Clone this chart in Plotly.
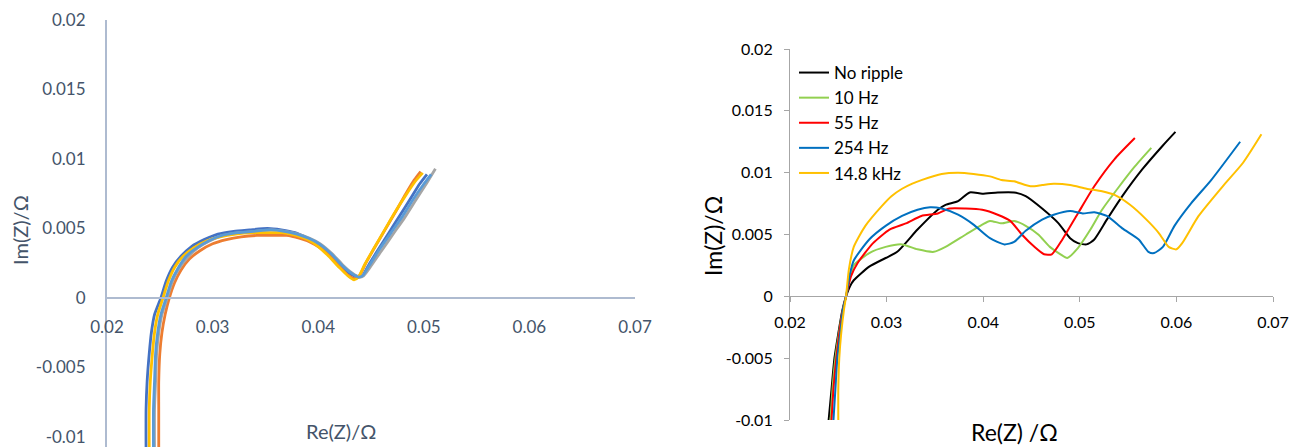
import plotly.graph_objects as go

# ---------------- Left chart data (five overlapping runs) ----------------
L1_x = [0.0237, 0.0237, 0.0238, 0.0240, 0.0242, 0.0245, 0.0251, 0.0256, 0.0262, 0.0270, 0.0280, 0.0292, 0.0305, 0.0320, 0.0335, 0.0352, 0.0365, 0.0378, 0.0390, 0.0400, 0.0411, 0.0422, 0.0431, 0.0438, 0.0442, 0.0448, 0.0457, 0.0467, 0.0477, 0.0487, 0.0496, 0.0503]
L1_y = [-0.0110, -0.0080, -0.0060, -0.0040, -0.0025, -0.0012, 0.0000, 0.0012, 0.0022, 0.0030, 0.0037, 0.0042, 0.0046, 0.0048, 0.0049, 0.0050, 0.0049, 0.0047, 0.0043, 0.0039, 0.0032, 0.0023, 0.0017, 0.0015, 0.0016, 0.0024, 0.0035, 0.0047, 0.0059, 0.0071, 0.0082, 0.0089]

L2_x = [0.0249, 0.0249, 0.0249, 0.0250, 0.0252, 0.0255, 0.0259, 0.0264, 0.0270, 0.0278, 0.0288, 0.0300, 0.0313, 0.0327, 0.0342, 0.0357, 0.0370, 0.0382, 0.0393, 0.0402, 0.0412, 0.0421, 0.0429, 0.0435, 0.0439, 0.0445, 0.0454, 0.0464, 0.0474, 0.0483, 0.0491, 0.0497]
L2_y = [-0.0110, -0.0080, -0.0060, -0.0040, -0.0025, -0.0012, 0.0000, 0.0011, 0.0020, 0.0028, 0.0034, 0.0039, 0.0042, 0.0044, 0.0045, 0.0045, 0.0045, 0.0043, 0.0040, 0.0036, 0.0030, 0.0022, 0.0016, 0.0014, 0.0016, 0.0025, 0.0037, 0.0050, 0.0063, 0.0075, 0.0085, 0.0091]

L3_x = [0.0245, 0.0245, 0.0246, 0.0247, 0.0249, 0.0252, 0.0257, 0.0262, 0.0268, 0.0276, 0.0286, 0.0297, 0.0310, 0.0325, 0.0340, 0.0356, 0.0369, 0.0381, 0.0392, 0.0402, 0.0413, 0.0423, 0.0432, 0.0439, 0.0443, 0.0450, 0.0460, 0.0471, 0.0482, 0.0492, 0.0503, 0.0511]
L3_y = [-0.0110, -0.0080, -0.0060, -0.0040, -0.0025, -0.0012, 0.0000, 0.0012, 0.0021, 0.0029, 0.0036, 0.0041, 0.0045, 0.0047, 0.0048, 0.0049, 0.0048, 0.0046, 0.0043, 0.0039, 0.0032, 0.0024, 0.0018, 0.0015, 0.0016, 0.0023, 0.0034, 0.0046, 0.0058, 0.0070, 0.0083, 0.0093]

L4_x = [0.0240, 0.0240, 0.0241, 0.0243, 0.0245, 0.0248, 0.0253, 0.0258, 0.0264, 0.0272, 0.0282, 0.0294, 0.0307, 0.0322, 0.0337, 0.0353, 0.0366, 0.0379, 0.0390, 0.0400, 0.0410, 0.0420, 0.0428, 0.0434, 0.0438, 0.0444, 0.0453, 0.0463, 0.0473, 0.0483, 0.0492, 0.0499]
L4_y = [-0.0110, -0.0080, -0.0060, -0.0040, -0.0025, -0.0012, 0.0000, 0.0012, 0.0022, 0.0030, 0.0036, 0.0041, 0.0044, 0.0046, 0.0047, 0.0047, 0.0047, 0.0045, 0.0042, 0.0037, 0.0030, 0.0022, 0.0016, 0.0013, 0.0015, 0.0024, 0.0036, 0.0049, 0.0062, 0.0074, 0.0084, 0.0090]

L5_x = [0.0244, 0.0244, 0.0245, 0.0246, 0.0248, 0.0251, 0.0256, 0.0261, 0.0267, 0.0275, 0.0285, 0.0296, 0.0309, 0.0324, 0.0339, 0.0355, 0.0368, 0.0380, 0.0391, 0.0401, 0.0412, 0.0422, 0.0431, 0.0438, 0.0442, 0.0448, 0.0458, 0.0469, 0.0480, 0.0490, 0.0500, 0.0507]
L5_y = [-0.0110, -0.0080, -0.0060, -0.0040, -0.0025, -0.0012, 0.0000, 0.0012, 0.0021, 0.0030, 0.0036, 0.0041, 0.0045, 0.0047, 0.0048, 0.0049, 0.0048, 0.0046, 0.0043, 0.0039, 0.0032, 0.0024, 0.0018, 0.0015, 0.0016, 0.0023, 0.0035, 0.0047, 0.0059, 0.0071, 0.0082, 0.0089]

left_colors = ["#4472c4", "#ed7d31", "#a5a5a5", "#ffc000", "#5b9bd5"]

# ---------------- Right chart data ----------------
R_names = ["No ripple", "10 Hz", "55 Hz", "254 Hz", "14.8 kHz"]
R_colors = ["#000000", "#92d050", "#ff0000", "#0070c0", "#ffc000"]

nr_x = [0.0240, 0.0243, 0.0246, 0.0250, 0.0254, 0.0258, 0.0262, 0.0266, 0.0282, 0.0299, 0.0311, 0.0332, 0.0353, 0.0361, 0.0374, 0.0386, 0.0399, 0.0415, 0.0432, 0.0444, 0.0461, 0.0478, 0.0490, 0.0498, 0.0507, 0.0515, 0.0528, 0.0544, 0.0565, 0.0586, 0.0599]
nr_y = [-0.0100, -0.0075, -0.0050, -0.0030, -0.0012, 0.0000, 0.0008, 0.0013, 0.0024, 0.0031, 0.0036, 0.0054, 0.0070, 0.0074, 0.0077, 0.0084, 0.0083, 0.0084, 0.0084, 0.0081, 0.0071, 0.0059, 0.0047, 0.0043, 0.0042, 0.0046, 0.0062, 0.0081, 0.0103, 0.0122, 0.0133]

h10_x = [0.0242, 0.0244, 0.0247, 0.0251, 0.0255, 0.0258, 0.0262, 0.0266, 0.0282, 0.0299, 0.0316, 0.0332, 0.0349, 0.0361, 0.0382, 0.0399, 0.0407, 0.0419, 0.0432, 0.0444, 0.0457, 0.0469, 0.0480, 0.0487, 0.0498, 0.0511, 0.0523, 0.0540, 0.0557, 0.0574]
h10_y = [-0.0100, -0.0075, -0.0050, -0.0028, -0.0010, 0.0000, 0.0015, 0.0025, 0.0035, 0.0040, 0.0042, 0.0038, 0.0036, 0.0040, 0.0050, 0.0058, 0.0061, 0.0059, 0.0061, 0.0057, 0.0050, 0.0040, 0.0034, 0.0031, 0.0039, 0.0054, 0.0070, 0.0088, 0.0105, 0.0120]

h55_x = [0.0243, 0.0245, 0.0248, 0.0251, 0.0255, 0.0258, 0.0263, 0.0270, 0.0286, 0.0303, 0.0320, 0.0336, 0.0353, 0.0365, 0.0382, 0.0399, 0.0415, 0.0428, 0.0440, 0.0453, 0.0463, 0.0471, 0.0482, 0.0498, 0.0515, 0.0536, 0.0557]
h55_y = [-0.0100, -0.0075, -0.0050, -0.0030, -0.0010, 0.0000, 0.0016, 0.0027, 0.0043, 0.0054, 0.0059, 0.0065, 0.0067, 0.0071, 0.0071, 0.0070, 0.0066, 0.0061, 0.0050, 0.0040, 0.0034, 0.0034, 0.0046, 0.0067, 0.0089, 0.0111, 0.0128]

h254_x = [0.0245, 0.0247, 0.0249, 0.0252, 0.0255, 0.0258, 0.0262, 0.0266, 0.0282, 0.0299, 0.0316, 0.0332, 0.0345, 0.0357, 0.0374, 0.0390, 0.0407, 0.0422, 0.0432, 0.0444, 0.0461, 0.0473, 0.0490, 0.0503, 0.0515, 0.0528, 0.0544, 0.0561, 0.0571, 0.0577, 0.0586, 0.0598, 0.0615, 0.0636, 0.0666]
h254_y = [-0.0100, -0.0075, -0.0050, -0.0030, -0.0010, 0.0000, 0.0018, 0.0029, 0.0046, 0.0057, 0.0065, 0.0070, 0.0072, 0.0071, 0.0066, 0.0058, 0.0047, 0.0042, 0.0044, 0.0053, 0.0062, 0.0066, 0.0069, 0.0067, 0.0068, 0.0065, 0.0055, 0.0046, 0.0036, 0.0035, 0.0040, 0.0057, 0.0075, 0.0094, 0.0125]

k148_x = [0.0250, 0.0250, 0.0251, 0.0253, 0.0256, 0.0258, 0.0261, 0.0266, 0.0278, 0.0295, 0.0305, 0.0316, 0.0326, 0.0336, 0.0357, 0.0374, 0.0390, 0.0407, 0.0419, 0.0432, 0.0449, 0.0461, 0.0473, 0.0490, 0.0507, 0.0523, 0.0536, 0.0552, 0.0569, 0.0582, 0.0592, 0.0600, 0.0606, 0.0623, 0.0648, 0.0669, 0.0688]
k148_y = [-0.0100, -0.0075, -0.0050, -0.0030, -0.0010, 0.0000, 0.0022, 0.0040, 0.0057, 0.0073, 0.0081, 0.0087, 0.0091, 0.0094, 0.0099, 0.0100, 0.0099, 0.0097, 0.0094, 0.0093, 0.0089, 0.0090, 0.0091, 0.0090, 0.0087, 0.0085, 0.0082, 0.0074, 0.0062, 0.0051, 0.0040, 0.0038, 0.0043, 0.0065, 0.0089, 0.0108, 0.0131]

R_x = [nr_x, h10_x, h55_x, h254_x, k148_x]
R_y = [nr_y, h10_y, h55_y, h254_y, k148_y]

L_x = [L1_x, L2_x, L3_x, L4_x, L5_x]
L_y = [L1_y, L2_y, L3_y, L4_y, L5_y]

ticks_x = [0.02, 0.03, 0.04, 0.05, 0.06, 0.07]
ticks_y = [-0.01, -0.005, 0, 0.005, 0.01, 0.015, 0.02]
tick_text_x = ["0.02", "0.03", "0.04", "0.05", "0.06", "0.07"]
tick_text_y = ["-0.01", "-0.005", "0", "0.005", "0.01", "0.015", "0.02"]

W, H = 1290, 447
FONT = "Lato, Carlito, Calibri, sans-serif"

fig = go.Figure()

for xs, ys, c in zip(L_x, L_y, left_colors):
    fig.add_trace(go.Scatter(x=xs, y=ys, mode="lines", xaxis="x", yaxis="y",
                             line=dict(color=c, width=2.8, shape="spline", smoothing=0.6),
                             showlegend=False, hoverinfo="skip"))

for xs, ys, c, n in zip(R_x, R_y, R_colors, R_names):
    fig.add_trace(go.Scatter(x=xs, y=ys, mode="lines", name=n, xaxis="x2", yaxis="y2",
                             line=dict(color=c, width=2, shape="spline", smoothing=0.6)))


def px_x(p):
    return p / W


def px_y(p):
    return (H - p) / H


# left y: 0.02 at py 20, -0.01 at py 437, axis runs to the bottom edge
per_px = 0.03 / (437 - 20)
ly_min = -0.01 - (H - 437) * per_px
ly_zero_py = 20 + 0.02 / per_px

fig.update_layout(
    xaxis=dict(domain=[px_x(107), px_x(635)], range=[0.02, 0.07], anchor="free",
               position=px_y(ly_zero_py), tickvals=ticks_x, ticktext=tick_text_x, automargin=False,
               showgrid=False, zeroline=False, showline=True, linecolor="#aebbd0", linewidth=2,
               ticks="", tickfont=dict(family=FONT, size=17, color="#44546a"),
               ticklabelstandoff=14, ticklabeloverflow="allow"),
    yaxis=dict(domain=[0, px_y(20)], range=[ly_min, 0.02], anchor="x", automargin=False,
               tickvals=ticks_y, ticktext=tick_text_y,
               showgrid=False, zeroline=False, showline=True, linecolor="#aebbd0", linewidth=2,
               ticks="", tickfont=dict(family=FONT, size=17, color="#44546a"),
               ticklabelstandoff=16, ticklabeloverflow="allow"),
    xaxis2=dict(domain=[px_x(790), px_x(1273)], range=[0.02, 0.07], anchor="free",
                position=px_y(296.3), tickvals=ticks_x, ticktext=tick_text_x, automargin=False,
                showgrid=False, zeroline=False, showline=True, linecolor="#a6a6a6", linewidth=1.2,
                ticks="outside", ticklen=5, tickcolor="#a6a6a6",
                tickfont=dict(family=FONT, size=16, color="#000000"),
                ticklabelstandoff=6, ticklabeloverflow="allow"),
    yaxis2=dict(domain=[px_y(420), px_y(49)], range=[-0.01, 0.02], anchor="x2", automargin=False,
                tickvals=ticks_y, ticktext=tick_text_y,
                showgrid=False, zeroline=False, showline=True, linecolor="#a6a6a6", linewidth=1.2,
                ticks="outside", ticklen=5, tickcolor="#a6a6a6",
                tickfont=dict(family=FONT, size=16, color="#000000"),
                ticklabelstandoff=8, ticklabeloverflow="allow"),
    width=W, height=H,
    margin=dict(l=0, r=0, t=0, b=0, autoexpand=False),
    paper_bgcolor="white", plot_bgcolor="white",
    font=dict(family=FONT),
    showlegend=True,
    legend=dict(x=px_x(794), y=px_y(55), xanchor="left", yanchor="top",
                bgcolor="rgba(0,0,0,0)", borderwidth=0,
                font=dict(family=FONT, size=17, color="#000000"),
                itemwidth=30, tracegroupgap=0),
    annotations=[
        dict(text="Im(Z)/Ω", x=px_x(20), y=px_y(230), xref="paper", yref="paper",
             xanchor="center", yanchor="middle",
             textangle=-90, showarrow=False, font=dict(family=FONT, size=20, color="#44546a")),
        dict(text="Re(Z)/Ω", x=px_x(341), y=px_y(431), xref="paper", yref="paper",
             xanchor="center", yanchor="middle",
             showarrow=False, font=dict(family=FONT, size=20, color="#44546a")),
        dict(text="Im(Z)/Ω", x=px_x(713), y=px_y(236), xref="paper", yref="paper",
             xanchor="center", yanchor="middle",
             textangle=-90, showarrow=False, font=dict(family=FONT, size=23, color="#000000")),
        dict(text="Re(Z) /Ω", x=px_x(1014), y=px_y(432), xref="paper", yref="paper",
             xanchor="center", yanchor="middle",
             showarrow=False, font=dict(family=FONT, size=23, color="#000000")),
    ],
)

fig.write_html("out.html")
